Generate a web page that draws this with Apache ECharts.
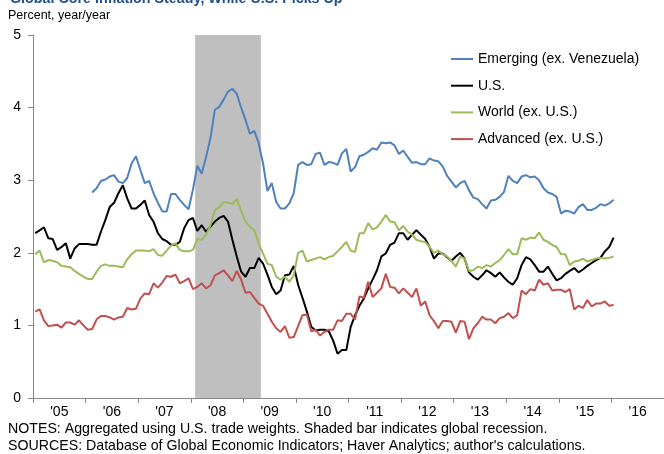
<!DOCTYPE html>
<html>
<head>
<meta charset="utf-8">
<script src="https://cdn.jsdelivr.net/npm/echarts@6/dist/echarts.min.js"></script>
<style>
  html, body { margin: 0; padding: 0; background: #fff; }
  #chart { width: 664px; height: 454px; }
</style>
</head>
<body>
<div id="chart"></div>
<script>
// year labels on the category axis (each label sits in the middle of its year)
const years = ["'05", "'06", "'07", "'08", "'09", "'10", "'11", "'12", "'13", "'14", "'15", "'16"];

// monthly core inflation, percent y/y; Jan 2005 .. Jan 2016
const usCore = [
  2.27, 2.31, 2.35, 2.20, 2.19, 2.04, 2.08, 2.13, 1.92, 2.06, 2.12, 2.12,
  2.12, 2.11, 2.11, 2.29, 2.45, 2.63, 2.69, 2.82, 2.93, 2.75, 2.61, 2.61,
  2.66, 2.72, 2.52, 2.43, 2.27, 2.19, 2.16, 2.11, 2.11, 2.15, 2.34, 2.45,
  2.48, 2.30, 2.38, 2.29, 2.36, 2.43, 2.48, 2.51, 2.43, 2.18, 1.95, 1.74,
  1.67, 1.79, 1.79, 1.93, 1.85, 1.70, 1.53, 1.43, 1.48, 1.69, 1.70, 1.82,
  1.56, 1.38, 1.19, 0.98, 0.93, 0.94, 0.94, 0.92, 0.79, 0.61, 0.66, 0.66,
  0.98, 1.14, 1.27, 1.37, 1.51, 1.63, 1.76, 1.95, 1.99, 2.11, 2.14, 2.27,
  2.27, 2.18, 2.25, 2.31, 2.25, 2.19, 2.08, 1.92, 1.99, 1.99, 1.94, 1.89,
  1.95, 2.00, 1.92, 1.73, 1.67, 1.63, 1.69, 1.76, 1.72, 1.67, 1.73, 1.66,
  1.60, 1.56, 1.65, 1.83, 1.94, 1.91, 1.83, 1.74, 1.74, 1.81, 1.71, 1.62,
  1.65, 1.71, 1.75, 1.79, 1.73, 1.77, 1.82, 1.86, 1.90, 1.93, 2.02, 2.08,
  2.21
];
const worldExUs = [
  1.98, 2.03, 1.87, 1.90, 1.89, 1.87, 1.82, 1.81, 1.80, 1.75, 1.71, 1.67,
  1.64, 1.64, 1.74, 1.82, 1.84, 1.82, 1.82, 1.81, 1.80, 1.91, 1.98, 2.03,
  2.03, 2.03, 2.02, 2.05, 1.97, 1.96, 2.03, 2.10, 2.13, 2.04, 2.02, 2.02,
  2.04, 2.19, 2.18, 2.25, 2.38, 2.59, 2.63, 2.70, 2.69, 2.67, 2.74, 2.58,
  2.43, 2.36, 2.31, 2.13, 1.99, 1.85, 1.83, 1.67, 1.63, 1.67, 1.60, 1.69,
  2.00, 2.03, 1.88, 1.90, 1.92, 1.94, 1.91, 1.94, 1.96, 2.02, 2.08, 2.15,
  2.03, 2.01, 2.27, 2.27, 2.41, 2.32, 2.35, 2.43, 2.52, 2.43, 2.42, 2.31,
  2.37, 2.29, 2.25, 2.18, 2.16, 2.15, 2.08, 2.00, 2.03, 1.98, 1.95, 1.89,
  1.81, 1.95, 1.92, 1.75, 1.76, 1.81, 1.79, 1.83, 1.81, 1.86, 1.90, 1.97,
  2.05, 1.98, 1.98, 2.20, 2.18, 2.21, 2.20, 2.28, 2.18, 2.15, 2.11, 2.08,
  1.98, 1.98, 1.83, 1.88, 1.89, 1.92, 1.88, 1.90, 1.92, 1.93, 1.92, 1.93,
  1.95
];
const advancedExUs = [
  1.19, 1.22, 1.07, 0.99, 1.00, 1.01, 0.97, 1.04, 1.04, 1.01, 1.07, 1.00,
  0.94, 0.95, 1.08, 1.13, 1.13, 1.11, 1.08, 1.11, 1.12, 1.24, 1.22, 1.23,
  1.37, 1.44, 1.43, 1.58, 1.52, 1.59, 1.68, 1.67, 1.70, 1.58, 1.61, 1.65,
  1.50, 1.53, 1.58, 1.51, 1.55, 1.69, 1.72, 1.76, 1.69, 1.61, 1.75, 1.63,
  1.45, 1.46, 1.38, 1.30, 1.27, 1.16, 1.05, 0.96, 0.91, 0.99, 0.83, 0.84,
  0.99, 1.14, 1.15, 0.92, 0.94, 0.86, 0.91, 0.94, 0.94, 1.07, 1.06, 1.16,
  1.16, 1.08, 1.40, 1.38, 1.60, 1.39, 1.45, 1.51, 1.71, 1.53, 1.52, 1.44,
  1.51, 1.45, 1.39, 1.51, 1.27, 1.33, 1.14, 1.06, 0.96, 1.06, 1.06, 1.05,
  0.90, 1.06, 1.05, 0.81, 0.96, 1.03, 1.12, 1.08, 1.08, 1.03, 1.10, 1.12,
  1.17, 1.10, 1.14, 1.48, 1.43, 1.50, 1.48, 1.63, 1.56, 1.58, 1.48, 1.49,
  1.49, 1.46, 1.50, 1.22, 1.27, 1.24, 1.35, 1.26, 1.30, 1.30, 1.33, 1.27,
  1.28
];
// Feb 2006 .. Jan 2016
const emergingExVen = [
  2.83, 2.89, 2.99, 3.01, 3.05, 3.07, 2.98, 2.96, 3.03, 3.23, 3.33,
  3.14, 2.96, 2.99, 2.82, 2.69, 2.57, 2.57, 2.81, 2.81, 2.73, 2.66, 2.60,
  2.87, 3.20, 3.09, 3.32, 3.58, 3.97, 4.01, 4.11, 4.22, 4.26, 4.19, 4.00,
  3.83, 3.64, 3.68, 3.51, 3.23, 2.85, 2.96, 2.70, 2.61, 2.61, 2.68, 2.82,
  3.21, 3.25, 3.21, 3.22, 3.36, 3.38, 3.21, 3.25, 3.24, 3.21, 3.37, 3.43,
  3.12, 3.18, 3.33, 3.35, 3.39, 3.44, 3.42, 3.52, 3.51, 3.52, 3.48, 3.36,
  3.41, 3.32, 3.24, 3.25, 3.22, 3.22, 3.30, 3.27, 3.26, 3.19, 3.06, 2.98,
  2.90, 2.96, 2.99, 2.86, 2.76, 2.74, 2.67, 2.61, 2.72, 2.73, 2.77, 2.84,
  3.06, 2.99, 2.96, 3.05, 3.07, 3.04, 3.05, 3.00, 2.89, 2.83, 2.81, 2.77,
  2.54, 2.58, 2.57, 2.54, 2.63, 2.67, 2.59, 2.59, 2.62, 2.67, 2.65, 2.68,
  2.73
];

const firstYear = 2005;
const lastYear = 2017;
const emergingStartMonth = 13;          // months after Jan 2005
const recession = [2008 + 1 / 12, 2009 + 4 / 12]; // Feb 2008 - Apr 2009

const FONT = '"Liberation Sans", Arial, sans-serif';

// [year fraction, value] pairs, point placed mid-month
function toPoints(values, offset) {
  return values.map((v, i) => [firstYear + (offset + i + 0.5) / 12, v]);
}

const chart = echarts.init(document.getElementById('chart'), null, { renderer: 'canvas' });

const lineSeries = (name, values, offset, color) => ({
  name: name,
  type: 'line',
  xAxisIndex: 1,
  data: toPoints(values, offset),
  symbol: 'none',
  showSymbol: false,
  z: 3,
  lineStyle: { color: color, width: 2 },
  itemStyle: { color: color }
});

const option = {
  animation: false,
  backgroundColor: '#fff',
  textStyle: { fontFamily: FONT },
  grid: { left: 33, top: 35, right: -4, bottom: 56 },
  legend: {
    data: ['Emerging (ex. Venezuela)', 'U.S.', 'World (ex. U.S.)', 'Advanced (ex. U.S.)'],
    orient: 'vertical',
    icon: 'rect',
    left: 446,
    top: 47,
    itemWidth: 22,
    itemHeight: 2,
    itemGap: 12.7,
    textStyle: { fontSize: 14, color: '#000', fontFamily: FONT, lineHeight: 14 }
  },
  xAxis: [
    {
      type: 'category',
      data: years,
      boundaryGap: true,
      axisLine: { lineStyle: { color: '#888', width: 1 } },
      axisTick: { show: true, length: 5, lineStyle: { color: '#888' } },
      axisLabel: { fontSize: 14, color: '#000', margin: 7 },
      splitLine: { show: false }
    },
    {
      type: 'value',
      min: firstYear,
      max: lastYear,
      show: false
    }
  ],
  yAxis: {
    type: 'value',
    min: 0,
    max: 5,
    interval: 1,
    axisLine: { show: true, lineStyle: { color: '#888', width: 1 } },
    axisTick: { show: true, length: 5, lineStyle: { color: '#888' } },
    axisLabel: { fontSize: 14, color: '#000', margin: 12 },
    splitLine: { show: false }
  },
  series: [
    {
      name: 'recession',
      type: 'line',
      xAxisIndex: 1,
      data: [],
      z: 1,
      silent: true,
      markArea: {
        silent: true,
        itemStyle: { color: '#BFBFBF' },
        data: [[{ xAxis: recession[0] }, { xAxis: recession[1] }]]
      }
    },
    lineSeries('Emerging (ex. Venezuela)', emergingExVen, emergingStartMonth, '#4F81BD'),
    lineSeries('U.S.', usCore, 0, '#000000'),
    lineSeries('World (ex. U.S.)', worldExUs, 0, '#9BBB59'),
    lineSeries('Advanced (ex. U.S.)', advancedExUs, 0, '#C0504D')
  ],
  graphic: [
    {
      type: 'text', x: 10, y: 6,
      style: {
        text: 'Global Core Inflation Steady, While U.S. Picks Up',
        font: 'bold 14.3px ' + FONT, fill: '#1F4E8A', verticalAlign: 'bottom'
      }
    },
    {
      type: 'text', x: 8, y: 16,
      style: { text: 'Percent, year/year', font: '12.5px ' + FONT, fill: '#000', verticalAlign: 'middle' }
    },
    {
      type: 'text', x: 8, y: 429,
      style: {
        text: 'NOTES: Aggregated using U.S. trade weights. Shaded bar indicates global recession.',
        font: '14.2px ' + FONT, fill: '#000', verticalAlign: 'middle'
      }
    },
    {
      type: 'text', x: 8, y: 446,
      style: {
        text: "SOURCES: Database of Global Economic Indicators; Haver Analytics; author's calculations.",
        font: '14.2px ' + FONT, fill: '#000', verticalAlign: 'middle'
      }
    }
  ]
};

chart.setOption(option);
</script>
</body>
</html>
